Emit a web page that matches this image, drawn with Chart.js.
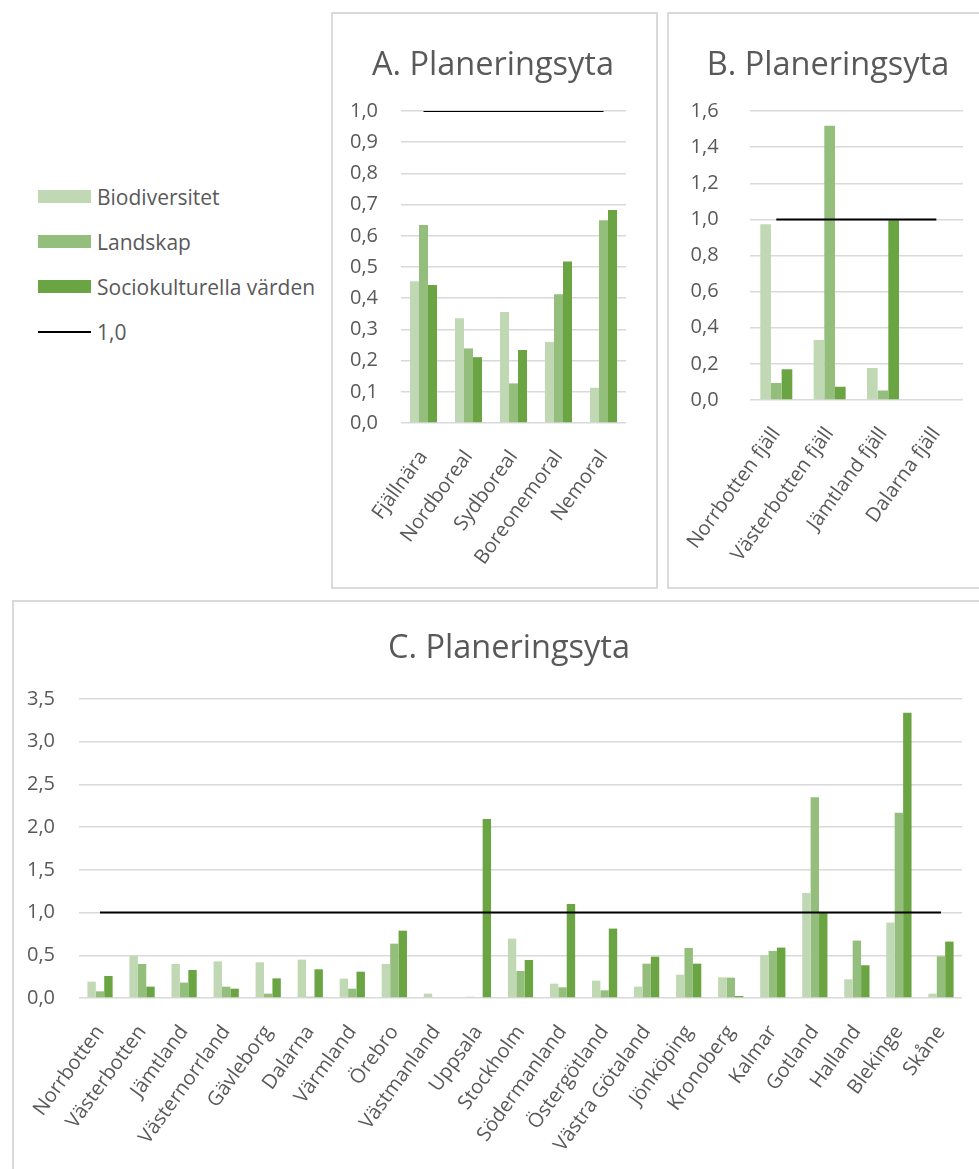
<!DOCTYPE html>
<html>
<head>
<meta charset="utf-8">
<script src="https://cdn.jsdelivr.net/npm/chart.js@4.4.0/dist/chart.umd.min.js"></script>
<style>
  body { margin: 0; width: 979px; height: 1169px; overflow: hidden; background: #fff; font-family: "Open Sans", sans-serif; }
  .panel { position: absolute; border: 2px solid #dadada; box-sizing: border-box; }
  canvas { position: absolute; }
  #legend { position: absolute; left: 38px; top: 174px; color: #595959; font-size: 21px; }
  .item { height: 45px; display: flex; align-items: center; position: absolute; left: 0; white-space: nowrap; }
  .sw { width: 53px; height: 13px; margin-right: 6px; }
  .ln { width: 53px; height: 2px; background: #000; margin-right: 6px; }
</style>
</head>
<body>
<div class="panel" style="left:331px;top:12px;width:327px;height:577px"></div>
<div class="panel" style="left:667px;top:12px;width:330px;height:577px"></div>
<div class="panel" style="left:12px;top:600px;width:990px;height:600px"></div>
<canvas id="chartA" width="326" height="576" style="left:331px;top:12px"></canvas>
<canvas id="chartB" width="322" height="576" style="left:667px;top:12px"></canvas>
<canvas id="chartC" width="992" height="569" style="left:12px;top:600px"></canvas>
<div id="legend"></div>

<script>
// series names and colours
const seriesNames = ["Biodiversitet", "Landskap", "Sociokulturella värden"];
const seriesColors = ["#c0d8b4", "#94be7c", "#6ba443"];
const lineName = "1,0";

// A. zones
const zonesA = ["Fjällnära", "Nordboreal", "Sydboreal", "Boreonemoral", "Nemoral"];
const bioA = [0.454, 0.336, 0.356, 0.260, 0.113];
const landA = [0.635, 0.239, 0.127, 0.413, 0.650];
const socioA = [0.442, 0.211, 0.234, 0.518, 0.683];

// B. mountain areas
const zonesB = ["Norrbotten fjäll", "Västerbotten fjäll", "Jämtland fjäll", "Dalarna fjäll"];
const bioB = [0.973, 0.332, 0.177, null];
const landB = [0.094, 1.519, 0.052, null];
const socioB = [0.170, 0.074, 0.995, null];

// C. counties
const counties = ["Norrbotten", "Västerbotten", "Jämtland", "Västernorrland", "Gävleborg", "Dalarna",
  "Värmland", "Örebro", "Västmanland", "Uppsala", "Stockholm", "Södermanland", "Östergötland",
  "Västra Götaland", "Jönköping", "Kronoberg", "Kalmar", "Gotland", "Halland", "Blekinge", "Skåne"];
const bioC = [0.191, 0.496, 0.398, 0.429, 0.418, 0.449, 0.226, 0.398, 0.051, 0.015, 0.695,
  0.168, 0.203, 0.133, 0.273, 0.242, 0.504, 1.23, 0.219, 0.883, 0.051];
const landC = [0.078, 0.398, 0.180, 0.133, 0.051, 0.015, 0.109, 0.636, 0, 0, 0.316,
  0.125, 0.090, 0.402, 0.586, 0.238, 0.551, 2.35, 0.672, 2.168, 0.488];
const socioC = [0.258, 0.133, 0.328, 0.109, 0.230, 0.336, 0.308, 0.788, 0, 2.096, 0.445,
  1.10, 0.8125, 0.484, 0.402, 0.023, 0.590, 0.996, 0.383, 3.34, 0.66];

// y axis ranges [max, step]
const axisA = [1.0, 0.1];
const axisB = [1.6, 0.2];
const axisC = [3.5, 0.5];

const grey = "#595959";
const fontName = "'Open Sans', sans-serif";

// title drawn at a fixed spot, the panels are not centred on the plot area
const panelTitle = {
  id: "panelTitle",
  afterDraw(chart, args, opts) {
    const ctx = chart.ctx;
    ctx.save();
    ctx.fillStyle = grey;
    ctx.font = "32.5px " + fontName;
    ctx.textAlign = "center";
    ctx.textBaseline = "alphabetic";
    ctx.fillText(opts.text, opts.x, opts.y);
    ctx.restore();
  }
};

function makeChart(id, title, labels, series, axis, geom) {
  const datasets = series.map((vals, i) => ({
    type: "bar",
    label: seriesNames[i],
    data: vals,
    backgroundColor: seriesColors[i],
    borderWidth: 0,
    categoryPercentage: 0.6,
    barPercentage: 1.0,
    order: 1
  }));
  datasets.push({
    type: "line",
    label: lineName,
    data: labels.map(() => 1),
    borderColor: "#000",
    borderWidth: 2,
    pointRadius: 0,
    fill: false,
    order: 0
  });

  new Chart(document.getElementById(id), {
    data: { labels: labels, datasets: datasets },
    plugins: [panelTitle],
    options: {
      responsive: false,
      animation: false,
      layout: { padding: { left: 0, right: geom.padRight, top: 99, bottom: 0 } },
      plugins: {
        legend: { display: false },
        tooltip: { enabled: false },
        title: { display: false },
        panelTitle: { text: title, x: geom.titleX, y: geom.titleY }
      },
      scales: {
        x: {
          grid: { display: false },
          border: { display: false },
          ticks: {
            color: grey,
            font: { family: fontName, size: 20 },
            minRotation: 54,
            maxRotation: 54,
            autoSkip: false,
            padding: 15
          },
          afterFit: s => { s.height = geom.xHeight; }
        },
        y: {
          min: 0,
          max: axis[0],
          border: { display: false },
          grid: { color: "#d9d9d9", lineWidth: 1.5, drawTicks: false },
          ticks: {
            stepSize: axis[1],
            color: grey,
            font: { family: fontName, size: 20 },
            padding: geom.tickPad,
            callback: v => v.toFixed(1).replace(".", ",")
          },
          afterFit: s => { s.width = geom.yWidth; }
        }
      }
    }
  });
}

makeChart("chartA", "A. Planeringsyta", zonesA, [bioA, landA, socioA], axisA,
  { yWidth: 70, xHeight: 165, padRight: 31, tickPad: 23, titleX: 162, titleY: 63 });
makeChart("chartB", "B. Planeringsyta", zonesB, [bioB, landB, socioB], axisB,
  { yWidth: 79, xHeight: 188, padRight: 26, tickPad: 31, titleX: 161, titleY: 63 });
makeChart("chartC", "C. Planeringsyta", counties, [bioC, landC, socioC], axisC,
  { yWidth: 67, xHeight: 171, padRight: 42, tickPad: 24, titleX: 497, titleY: 58 });

// shared legend on the left
const legend = document.getElementById("legend");
seriesNames.concat([lineName]).forEach((name, i) => {
  const row = document.createElement("div");
  row.className = "item";
  row.style.top = (i * 45) + "px";
  const mark = document.createElement("span");
  if (i < seriesNames.length) {
    mark.className = "sw";
    mark.style.background = seriesColors[i];
  } else {
    mark.className = "ln";
  }
  row.appendChild(mark);
  row.appendChild(document.createTextNode(name));
  legend.appendChild(row);
});
</script>
</body>
</html>
